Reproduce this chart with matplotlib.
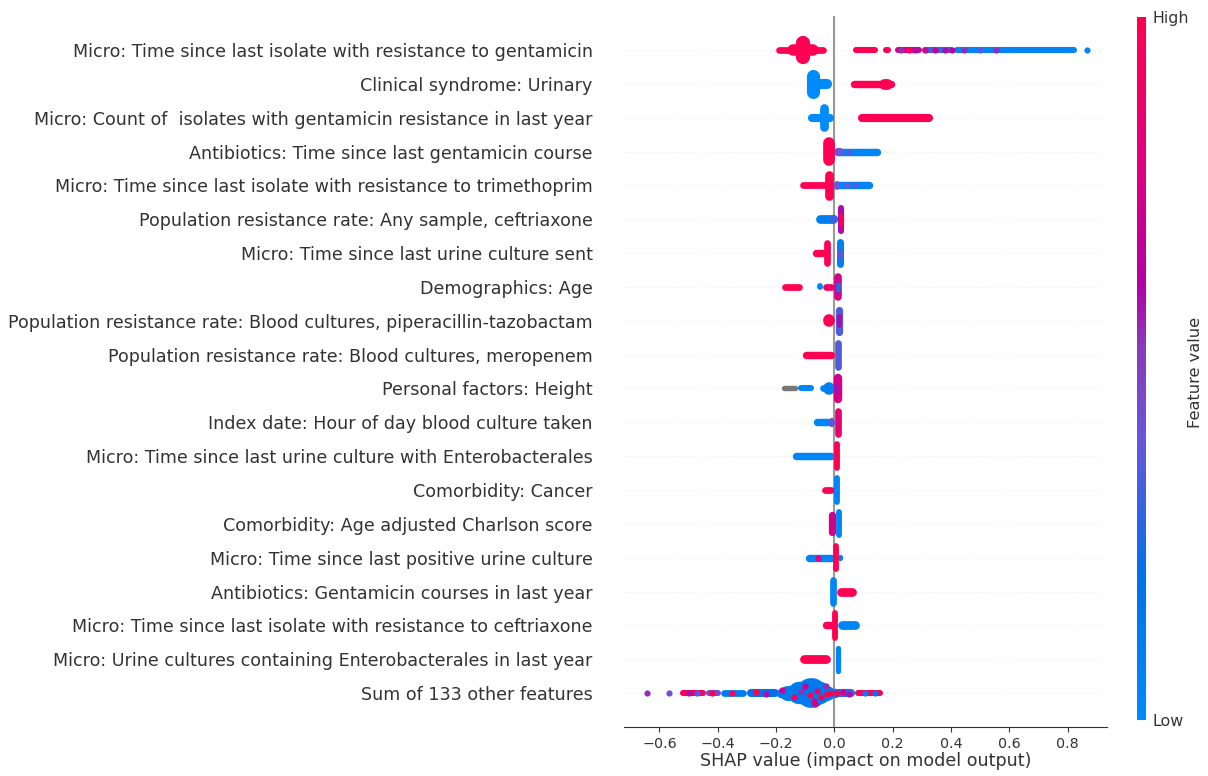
"""SHAP beeswarm summary: gentamicin resistance model."""
import numpy as np
import matplotlib.pyplot as plt
from matplotlib.colors import LinearSegmentedColormap

features = [
    "Micro: Time since last isolate with resistance to gentamicin",
    "Clinical syndrome: Urinary",
    "Micro: Count of  isolates with gentamicin resistance in last year",
    "Antibiotics: Time since last gentamicin course",
    "Micro: Time since last isolate with resistance to trimethoprim",
    "Population resistance rate: Any sample, ceftriaxone",
    "Micro: Time since last urine culture sent",
    "Demographics: Age",
    "Population resistance rate: Blood cultures, piperacillin-tazobactam",
    "Population resistance rate: Blood cultures, meropenem",
    "Personal factors: Height",
    "Index date: Hour of day blood culture taken",
    "Micro: Time since last urine culture with Enterobacterales",
    "Comorbidity: Cancer",
    "Comorbidity: Age adjusted Charlson score",
    "Micro: Time since last positive urine culture",
    "Antibiotics: Gentamicin courses in last year",
    "Micro: Time since last isolate with resistance to ceftriaxone",
    "Micro: Urine cultures containing Enterobacterales in last year",
    "Sum of 133 other features",
]

# swarm outline per feature:
# (shap start, shap end, half spread in rows, feature value 0..1 or None = missing)
blobs = [
    [(-0.203, -0.028, 0.1, 1.0), (-0.16, -0.055, 0.17, 1.0), (-0.132, -0.083, 0.43, 1.0),
     (0.065, 0.149, 0.09, 1.0), (0.166, 0.196, 0.09, 1.0), (0.208, 0.3, 0.09, 0.75),
     (0.3, 0.41, 0.09, 0.3), (0.41, 0.833, 0.09, 0.05)],
    [(-0.095, -0.008, 0.15, 0.0), (-0.095, -0.05, 0.44, 0.0),
     (0.053, 0.206, 0.11, 1.0), (0.15, 0.2, 0.16, 1.0)],
    [(-0.09, 0.0, 0.12, 0.0), (-0.05, -0.02, 0.41, 0.0),
     (0.082, 0.337, 0.12, 1.0)],
    [(0.0, 0.16, 0.11, 0.05), (0.0, 0.035, 0.12, 0.4),
     (-0.04, 0.0, 0.43, 1.0)],
    [(-0.12, 0.0, 0.1, 1.0), (0.0, 0.13, 0.11, 0.05),
     (0.0, 0.02, 0.12, 0.4), (-0.032, -0.002, 0.43, 1.0)],
    [(-0.063, 0.012, 0.13, 0.1), (-0.02, 0.012, 0.12, 0.3),
     (0.012, 0.033, 0.43, 0.6), (0.014, 0.031, 0.2, 1.0)],
    [(-0.076, -0.03, 0.11, 1.0), (-0.038, -0.015, 0.39, 1.0),
     (-0.015, 0.01, 0.11, 0.4), (0.009, 0.033, 0.42, 0.1), (0.012, 0.03, 0.15, 0.35)],
    [(-0.18, -0.11, 0.1, 1.0), (-0.11, -0.085, 0.1, 0.05), (-0.085, -0.06, 0.1, 1.0),
     (-0.06, -0.04, 0.1, 0.05), (-0.04, 0.0, 0.1, 0.9),
     (0.0, 0.026, 0.42, 0.75), (0.004, 0.02, 0.15, 0.3)],
    [(-0.04, 0.0, 0.19, 1.0), (0.005, 0.03, 0.44, 0.35), (0.008, 0.025, 0.2, 0.6)],
    [(-0.11, 0.0, 0.11, 1.0), (0.0, 0.023, 0.45, 0.35)],
    [(-0.183, -0.124, 0.08, None), (-0.124, -0.068, 0.09, 0.05),
     (-0.05, -0.02, 0.1, 0.05), (-0.04, 0.0, 0.18, 0.1),
     (-0.003, 0.026, 0.43, 0.75), (0.0, 0.02, 0.15, 0.6)],
    [(-0.073, 0.0, 0.11, 0.05), (-0.015, 0.0, 0.13, 0.45),
     (0.0, 0.023, 0.43, 0.85)],
    [(-0.145, 0.0, 0.11, 0.05), (0.0, 0.02, 0.45, 1.0)],
    [(-0.042, 0.0, 0.1, 1.0), (0.0, 0.02, 0.43, 0.05)],
    [(-0.02, 0.005, 0.36, 0.75), (0.005, 0.025, 0.43, 0.05)],
    [(-0.1, 0.0, 0.11, 0.05), (0.012, 0.03, 0.1, 0.1), (-0.005, 0.015, 0.42, 1.0)],
    [(0.008, 0.077, 0.13, 1.0), (-0.015, 0.008, 0.43, 0.05)],
    [(-0.04, 0.0, 0.11, 1.0), (0.01, 0.085, 0.13, 0.05), (-0.008, 0.012, 0.45, 1.0)],
    [(-0.118, -0.015, 0.13, 1.0), (0.002, 0.02, 0.42, 0.05)],
    [(-0.531, -0.44, 0.09, 0.92), (-0.44, -0.39, 0.09, 0.45), (-0.39, -0.3, 0.1, 0.12),
     (-0.3, -0.19, 0.12, 0.2),
     (-0.2, 0.02, 0.14, 0.15), (-0.187, 0.0, 0.22, 0.13), (-0.16, -0.01, 0.33, 0.12),
     (-0.13, -0.025, 0.44, 0.14),
     (0.0, 0.07, 0.12, 0.3), (0.07, 0.168, 0.09, 0.95)],
]

# single points that stand out from the outlines: (row, shap value, offset in rows, feature value)
specks = [
    (0, 0.865, 0.0, 0.05),
    (0, 0.23, 0.0, 0.55), (0, 0.255, 0.0, 1.0), (0, 0.275, 0.0, 0.6), (0, 0.31, 0.0, 0.75),
    (0, 0.345, 0.0, 0.7), (0, 0.38, 0.0, 0.6), (0, 0.405, 0.0, 0.65), (0, 0.445, 0.0, 0.55),
    (0, 0.555, 0.0, 0.55), (0, 0.5, 0.0, 0.35),
    (4, 0.045, 0.0, 0.4), (4, 0.07, 0.0, 0.35), (3, 0.05, 0.0, 0.35),
    (15, -0.057, 0.0, 0.8),
    (19, -0.643, 0.0, 0.55), (19, -0.566, 0.0, 0.45),
    (19, -0.5, 0.0, 0.6), (19, -0.47, 0.0, 0.35), (19, -0.42, 0.0, 1.0),
    (19, -0.35, 0.0, 1.0), (19, -0.27, 0.03, 1.0), (19, -0.235, -0.03, 0.6),
    (19, -0.18, 0.1, 0.7), (19, -0.14, -0.12, 1.0), (19, -0.115, 0.05, 0.55),
    (19, -0.1, 0.22, 0.7), (19, -0.085, -0.05, 1.0), (19, -0.07, -0.25, 0.75),
    (19, -0.068, -0.33, 0.75), (19, -0.06, 0.05, 0.9), (19, -0.045, -0.12, 1.0),
    (19, -0.03, 0.2, 0.55), (19, -0.025, -0.02, 1.0), (19, -0.012, 0.0, 1.0),
    (19, 0.008, 0.0, 1.0), (19, 0.03, 0.02, 0.7), (19, 0.05, -0.02, 0.6),
    (19, 0.105, 0.0, 0.1), (19, 0.14, 0.0, 0.2),
]

colors = ["#008bfb", "#0072ea", "#6a56d8", "#8a3bb8", "#b300a6", "#e2007c", "#ff0052"]
stops = [0.0, 0.2, 0.4, 0.53, 0.62, 0.8, 1.0]
cmap = LinearSegmentedColormap.from_list("red_blue", list(zip(stops, colors)))

DPI = 100
fig = plt.figure(figsize=(12.08, 7.76), dpi=DPI)
ax = fig.add_axes([0.5166, 0.0633, 0.3996, 0.9158])
n = len(features)
ax.set_xlim(-0.721, 0.934)
ax.set_ylim(-1, n)

# pixel scale of one shap unit / one row, used to turn spreads into line widths
ax_w = fig.get_figwidth() * DPI * ax.get_position().width
ax_h = fig.get_figheight() * DPI * ax.get_position().height
ux = ax_w / (0.934 + 0.721)
uy = ax_h / (n + 1)

for i, name in enumerate(features):
    y = n - 1 - i
    ax.axhline(y, color="#cccccc", lw=0.5, dashes=(1, 5), zorder=-1)
    for x0, x1, h, c in blobs[i]:
        col = "#777777" if c is None else cmap(c)
        w = (x1 - x0) * ux
        hh = 2 * h * uy
        if w >= hh:
            dx = h * uy / ux
            ax.plot([x0 + dx, x1 - dx], [y, y], color=col, lw=hh * 72 / DPI,
                    solid_capstyle="round", zorder=2)
        else:
            dy = h - w / 2 / uy
            xm = (x0 + x1) / 2
            ax.plot([xm, xm], [y - dy, y + dy], color=col, lw=w * 72 / DPI,
                    solid_capstyle="round", zorder=2)

for row, sx, off, c in specks:
    ax.scatter(sx, n - 1 - row + off, s=20, color=cmap(c), linewidth=0, zorder=3)

ax.axvline(0, color="#999999", zorder=-1, lw=1.5)

ax.set_yticks(range(n))
ax.set_yticklabels(features[::-1], fontsize=12.6)
ax.tick_params("y", length=0, pad=22.5)
ax.tick_params("x", labelsize=10.3)
ax.tick_params(color="#333333", labelcolor="#333333")
ax.set_xlabel("SHAP value (impact on model output)", fontsize=12.6, color="#333333", labelpad=1)
for s in ["top", "right", "left"]:
    ax.spines[s].set_visible(False)
ax.spines["bottom"].set_color("#333333")

cax = fig.add_axes([0.9412, 0.0722, 0.0068, 0.906])
grad = np.linspace(0, 1, 256).reshape(-1, 1)
cax.imshow(grad, aspect="auto", cmap=cmap, origin="lower", extent=[0, 1, 0, 1])
cax.set_xticks([])
cax.yaxis.tick_right()
cax.set_yticks([0, 1])
cax.set_yticklabels(["Low", "High"], fontsize=11.4, color="#333333")
cax.tick_params(length=0, pad=5)
for s in cax.spines.values():
    s.set_visible(False)
cax.yaxis.set_label_position("right")
cax.set_ylabel("Feature value", fontsize=11.7, color="#333333")
cax.yaxis.set_label_coords(6.2, 0.495)

fig.savefig("out.png", dpi=DPI)
